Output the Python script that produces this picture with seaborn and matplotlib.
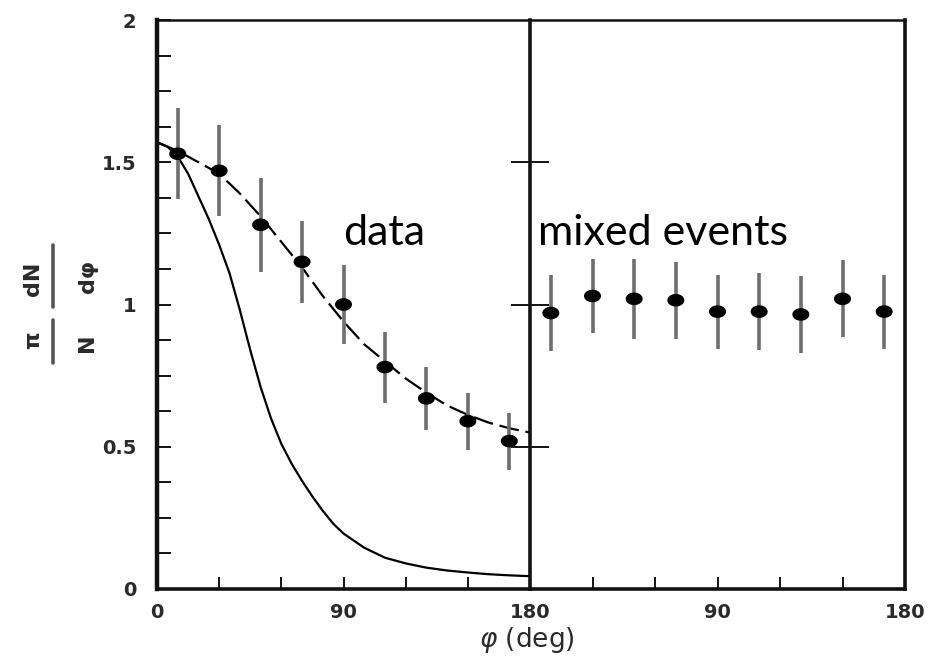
import numpy as np
import pandas as pd
import matplotlib
matplotlib.use("Agg")
import matplotlib.pyplot as plt
from matplotlib.path import Path
from matplotlib.lines import Line2D
from matplotlib.ticker import MultipleLocator
import seaborn as sns

# bin centres (deg) for both panels
phi_bins = [10, 30, 50, 70, 90, 110, 130, 150, 170]

# left panel: data
data_y = [1.53, 1.47, 1.28, 1.15, 1.00, 0.78, 0.67, 0.59, 0.52]
data_err = [0.16, 0.16, 0.165, 0.145, 0.14, 0.125, 0.11, 0.10, 0.10]

# right panel: mixed events
mixed_y = [0.97, 1.03, 1.02, 1.015, 0.975, 0.975, 0.965, 1.02, 0.975]
mixed_err = [0.135, 0.13, 0.14, 0.135, 0.13, 0.135, 0.135, 0.135, 0.13]

# curves
dashed_phi = [0, 10, 20, 30, 40, 50, 60, 70, 80, 90, 100, 110, 120, 130, 140, 150, 160, 170, 180]
dashed_y = [1.57, 1.54, 1.50, 1.46, 1.39, 1.31, 1.22, 1.13, 1.03, 0.94, 0.86, 0.80,
            0.74, 0.69, 0.645, 0.612, 0.585, 0.565, 0.55]
solid_phi = [0, 5, 10, 15, 20, 25, 30, 35, 40, 45, 50, 55, 60, 65, 70, 75, 80, 85, 90,
             100, 110, 120, 130, 140, 150, 160, 170, 180]
solid_y = [1.57, 1.555, 1.52, 1.46, 1.38, 1.30, 1.21, 1.11, 0.98, 0.84, 0.71, 0.60, 0.51,
           0.44, 0.38, 0.325, 0.275, 0.23, 0.195, 0.145, 0.11, 0.09, 0.075, 0.065, 0.058,
           0.052, 0.048, 0.045]

sns.set_style("ticks")
plt.rcParams['font.family'] = ['DejaVu Sans']

fig = plt.figure(figsize=(9.32, 6.58), dpi=100)
ax1 = fig.add_axes([157/932, 1-589/658, 373/932, 569/658])
ax2 = fig.add_axes([530/932, 1-589/658, 375/932, 569/658])

# elliptical dot like the scanned figure
t = np.linspace(0, 2*np.pi, 40)
dot = Path(np.column_stack([1.35*np.cos(t), np.sin(t)]))

left_df = pd.DataFrame({'phi': phi_bins, 'y': data_y, 'err': data_err})
right_df = pd.DataFrame({'phi': phi_bins, 'y': mixed_y, 'err': mixed_err})
solid_df = pd.DataFrame({'phi': solid_phi, 'y': solid_y})
dashed_df = pd.DataFrame({'phi': dashed_phi, 'y': dashed_y})

sns.lineplot(data=solid_df, x='phi', y='y', ax=ax1, color='black', lw=1.6)
sns.lineplot(data=dashed_df, x='phi', y='y', ax=ax1, color='black', lw=1.6)
ax1.lines[-1].set_dashes([9, 3])

for ax, df in [(ax1, left_df), (ax2, right_df)]:
    ax.errorbar(df['phi'], df['y'], yerr=df['err'], fmt='none',
                ecolor='#6e6e6e', elinewidth=2.6, capsize=0, zorder=2)
    sns.scatterplot(data=df, x='phi', y='y', ax=ax, marker=dot, s=150,
                    color='black', edgecolor='none', zorder=3)

for ax in (ax1, ax2):
    ax.set_xlim(0, 180)
    ax.set_ylim(0, 2)
    ax.set_xlabel('')
    ax.set_ylabel('')
    for side in ['left', 'right', 'top', 'bottom']:
        ax.spines[side].set_visible(True)
        ax.spines[side].set_linewidth(2.6)
        ax.spines[side].set_color('#111111')
    ax.spines['top'].set_linewidth(1.8)
    ax.xaxis.set_minor_locator(MultipleLocator(30))
    ax.tick_params(axis='x', which='both', direction='in', length=9, width=1.4,
                   colors='#111111', labelsize=14, pad=10, top=False)

# left panel axes
ax1.set_xticks([0, 90, 180])
ax1.set_xticklabels(['0', '90', '180'])
ax1.set_yticks([0, 0.5, 1, 1.5, 2])
ax1.set_yticklabels(['0', '0.5', '1', '1.5', '2'])
ax1.yaxis.set_minor_locator(MultipleLocator(0.125))
ax1.tick_params(axis='y', which='both', direction='in', length=10, width=1.4,
                colors='#111111', labelsize=14, pad=15, right=False)
ax1.spines['right'].set_visible(False)
ax1.spines['left'].set_linewidth(3.2)

# right panel axes
ax2.set_xticks([90, 180])
ax2.set_xticklabels(['90', '180'])
ax2.set_yticks([0.5, 1, 1.5])
ax2.set_yticklabels([])
ax2.tick_params(axis='y', which='major', direction='inout', length=28, width=1.4,
                colors='#111111', right=False)
ax2.tick_params(axis='y', which='minor', left=False, right=False)

for lab in ax1.get_xticklabels() + ax2.get_xticklabels() + ax1.get_yticklabels():
    lab.set_color('#2a2a2a')
    lab.set_fontweight('bold')

ax1.text(90, 1.21, 'data', fontsize=31, family=['Lato', 'DejaVu Sans'], color='black')
ax2.text(3.8, 1.21, 'mixed events', fontsize=31, family=['Lato', 'DejaVu Sans'], color='black')

fig.text(527/932, 1-640/658, r'$\varphi$ (deg)', ha='center', va='center',
         fontsize=19, color='#2a2a2a')

# y label: pi/N dN/dphi, rotated
W, H = 932, 658
lab_kw = dict(rotation=90, ha='center', va='center', fontsize=16,
              fontweight='bold', color='#2a2a2a')
fig.text(33/W, 1-279/H, 'dN', **lab_kw)
fig.text(88/W, 1-276/H, 'dφ', **lab_kw)
fig.text(33/W, 1-340/H, 'π', **lab_kw)
fig.text(87/W, 1-343/H, 'N', **lab_kw)
for y0, y1 in [(245, 307), (320, 363)]:
    fig.add_artist(Line2D([53/W, 53/W], [1-y0/H, 1-y1/H], color='#555555', lw=2.6))

fig.savefig('out.png', dpi=100)
